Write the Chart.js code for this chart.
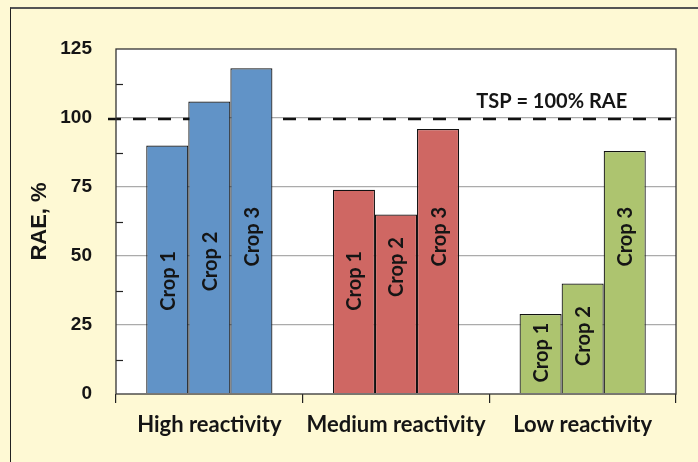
<!DOCTYPE html>
<html>
<head>
<meta charset="utf-8">
<script src="https://cdn.jsdelivr.net/npm/chart.js@4.4.1/dist/chart.umd.min.js"></script>
<style>
    html, body { margin: 0; padding: 0; background: #fef9d4; }
    #wrap { position: relative; width: 698px; height: 462px; overflow: hidden; background: #fef9d4; }
    #frame { position: absolute; left: 10px; top: 7px; right: -10px; bottom: -10px;
             border-top: 2px solid #555; border-left: 1.5px solid #222; }
    canvas { position: absolute; left: 0; top: 0; }
</style>
</head>
<body>
<div id="wrap">
    <div id="frame"></div>
    <canvas id="raeChart" width="698" height="462"></canvas>
</div>
<script>
const categories = ['High reactivity', 'Medium reactivity', 'Low reactivity'];
const cropNames = ['Crop 1', 'Crop 2', 'Crop 3'];
const crop1 = [90, 74, 29];
const crop2 = [106, 65, 40];
const crop3 = [118, 96, 88];
const yTicks = [0, 25, 50, 75, 100, 125];
const tspValue = 100;
const tspLabel = 'TSP = 100% RAE';

const groupColors = ['#6193c7', '#cf6763', '#adc46f'];
const textColor = '#151515';

// hand-placed spots of the rotated "Crop n" labels (in axis units), per group
const labelSpots = [
    [41, 48, 57],
    [41, 46, 57],
    [15, 21, 57]
];

const plotDecor = {
    id: 'plotDecor',
    beforeDraw: (chart) => {
        const { ctx, chartArea: a } = chart;
        ctx.save();
        ctx.fillStyle = '#ffffff';
        ctx.fillRect(a.left, a.top, a.right - a.left, a.bottom - a.top);
        ctx.restore();
    },
    beforeDatasetsDraw: (chart) => {
        const { ctx, chartArea: a, scales } = chart;
        const y = scales.y.getPixelForValue(tspValue) + 1;
        ctx.save();
        ctx.strokeStyle = '#111';
        ctx.lineWidth = 2.6;
        ctx.setLineDash([13, 12]);
        ctx.beginPath();
        ctx.moveTo(a.left - 8, y);
        ctx.lineTo(a.right, y);
        ctx.stroke();
        ctx.restore();
    },
    afterDatasetsDraw: (chart) => {
        const { ctx, chartArea: a, scales } = chart;
        ctx.save();

        // minor ticks pointing inward
        ctx.strokeStyle = '#222';
        ctx.lineWidth = 1.2;
        scales.y.ticks.forEach((t) => {
            if (yTicks.includes(t.value)) return;
            const py = Math.round(scales.y.getPixelForValue(t.value)) + 0.5;
            ctx.beginPath();
            ctx.moveTo(a.left, py);
            ctx.lineTo(a.left + 7, py);
            ctx.stroke();
        });

        // plot frame
        ctx.strokeStyle = '#333';
        ctx.lineWidth = 1.3;
        ctx.strokeRect(a.left, a.top, a.right - a.left, a.bottom - a.top);

        // crop labels inside the bars
        ctx.fillStyle = textColor;
        ctx.font = 'bold 20px Lato';
        ctx.textAlign = 'center';
        ctx.textBaseline = 'middle';
        chart.data.datasets.forEach((ds, i) => {
            chart.getDatasetMeta(i).data.forEach((bar, j) => {
                const py = scales.y.getPixelForValue(labelSpots[j][i]);
                ctx.save();
                ctx.translate(bar.x + 1, py);
                ctx.rotate(-Math.PI / 2);
                ctx.fillText(cropNames[i], 0, 0);
                ctx.restore();
            });
        });

        // reference line label
        ctx.font = 'bold 20px Lato';
        ctx.fillText(tspLabel, a.left + (a.right - a.left) * 0.778, scales.y.getPixelForValue(tspValue) - 16);
        ctx.restore();
    }
};

const makeSet = (name, values) => ({
    label: name,
    data: values,
    backgroundColor: values.map((_, index) => groupColors[index]),
    borderColor: '#111',
    borderWidth: 1.2,
    borderSkipped: 'bottom',
    barPercentage: 1,
    categoryPercentage: 0.676
});

new Chart(document.getElementById('raeChart'), {
    type: 'bar',
    data: {
        labels: categories,
        datasets: [
            makeSet(cropNames[0], crop1),
            makeSet(cropNames[1], crop2),
            makeSet(cropNames[2], crop3)
        ]
    },
    options: {
        responsive: false,
        animation: false,
        layout: { padding: { left: 14, right: 22, top: 49, bottom: 0 } },
        plugins: {
            legend: { display: false },
            tooltip: { enabled: false }
        },
        scales: {
            x: {
                grid: {
                    offset: true,
                    drawOnChartArea: false,
                    drawTicks: true,
                    tickLength: 9,
                    color: '#222',
                    lineWidth: 1.2
                },
                border: { display: false },
                ticks: {
                    color: textColor,
                    padding: 9,
                    font: { family: 'Lato', weight: 'bold', size: 22 }
                },
                afterFit: (scale) => { scale.height = 462 - 394; }
            },
            y: {
                min: 0,
                max: 125,
                grid: {
                    drawTicks: false,
                    color: (c) => {
                        const v = c.tick ? c.tick.value : 0;
                        return (v > 0 && v < 125 && yTicks.includes(v)) ? '#ababab' : 'rgba(0,0,0,0)';
                    },
                    lineWidth: 1.3
                },
                border: { display: false },
                ticks: {
                    stepSize: 12.5,
                    autoSkip: false,
                    maxTicksLimit: 20,
                    padding: 24,
                    color: textColor,
                    font: { family: 'Liberation Sans', weight: 'bold', size: 19 },
                    callback: (value) => (yTicks.includes(value) ? value : '')
                },
                title: {
                    display: true,
                    text: 'RAE, %',
                    color: textColor,
                    font: { family: 'Liberation Sans', weight: 'bold', size: 22 },
                    padding: { top: 13, bottom: 0 }
                },
                afterFit: (scale) => { scale.width = 116 - 14; }
            }
        }
    },
    plugins: [plotDecor]
});
</script>
</body>
</html>
